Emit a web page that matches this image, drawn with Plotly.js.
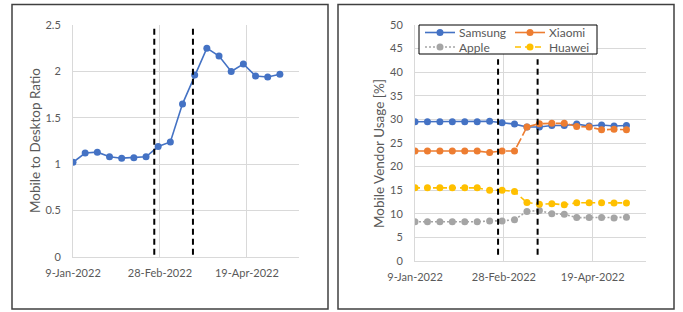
<!DOCTYPE html>
<html>
<head>
<meta charset="utf-8">
<script src="https://cdn.plot.ly/plotly-3.0.1.min.js"></script>
<style>
  html, body { margin: 0; padding: 0; background: #ffffff; }
  #chart { width: 683px; height: 312px; }
</style>
</head>
<body>
<div id="chart"></div>
<script>
// ---- data ----
const weeks = [
  "2022-01-09", "2022-01-16", "2022-01-23", "2022-01-30", "2022-02-06", "2022-02-13",
  "2022-02-20", "2022-02-27", "2022-03-06", "2022-03-13", "2022-03-20", "2022-03-27",
  "2022-04-03", "2022-04-10", "2022-04-17", "2022-04-24", "2022-05-01", "2022-05-08"
];
const mobileDesktopRatio = [1.02, 1.12, 1.13, 1.08, 1.065, 1.07, 1.08, 1.19, 1.24, 1.65, 1.96, 2.25, 2.165, 2.0, 2.08, 1.95, 1.94, 1.97];
const samsung = [29.5, 29.5, 29.5, 29.5, 29.5, 29.5, 29.6, 29.3, 29.0, 28.4, 28.4, 28.7, 28.7, 29.0, 28.6, 28.8, 28.6, 28.7];
const xiaomi  = [23.3, 23.3, 23.3, 23.3, 23.3, 23.3, 23.0, 23.3, 23.3, 28.4, 29.1, 29.2, 29.2, 28.5, 28.4, 27.8, 27.9, 27.8];
const apple   = [8.3, 8.3, 8.3, 8.3, 8.3, 8.3, 8.5, 8.5, 8.75, 10.5, 10.7, 10.0, 9.9, 9.2, 9.2, 9.2, 9.1, 9.25];
const huawei  = [15.5, 15.5, 15.5, 15.5, 15.5, 15.5, 15.0, 15.0, 14.7, 12.4, 12.0, 12.15, 11.9, 12.35, 12.35, 12.35, 12.3, 12.3];
const vendorNames = ["Samsung", "Xiaomi", "Apple", "Huawei"];
const eventDates = ["2022-02-24 18:00", "2022-03-19"];
const tickDates = ["2022-01-09", "2022-02-28", "2022-04-19"];
const tickLabels = ["9-Jan-2022", "28-Feb-2022", "19-Apr-2022"];
const xRange = ["2022-01-09", "2022-05-19"];

// ---- style ----
const FONT = "Lato, 'Open Sans', sans-serif";
const TXT = "#595959";
const GRID = "#d9d9d9";
const W = 683, H = 312;
const px = v => v / W;
const py = v => 1 - v / H;

const vendorStyle = {
  Samsung: { color: "#4472C4", dash: "solid",    legDash: "solid" },
  Xiaomi:  { color: "#ED7D31", dash: "10px,3px", legDash: "solid" },
  Apple:   { color: "#A5A5A5", dash: "2px,2px",  legDash: "2px,2px" },
  Huawei:  { color: "#FFC000", dash: "5px,4px",  legDash: "6px,4px" }
};
const vendorValues = { Samsung: samsung, Xiaomi: xiaomi, Apple: apple, Huawei: huawei };

function mk(name, y, color, dash, xa, ya) {
  return {
    type: "scatter", mode: "lines+markers", name: name,
    x: weeks, y: y, xaxis: xa, yaxis: ya, showlegend: false,
    line: { color: color, width: 1.6, dash: dash },
    marker: { color: color, size: 7, symbol: "circle" }
  };
}

const traces = [mk("Ratio", mobileDesktopRatio, "#4472C4", "solid", "x", "y")];
vendorNames.forEach(n => traces.push(mk(n, vendorValues[n], vendorStyle[n].color, vendorStyle[n].dash, "x2", "y2")));

function xax(domain) {
  return {
    type: "date", domain: domain, range: xRange,
    tickmode: "array", tickvals: tickDates, ticktext: tickLabels,
    showgrid: true, gridcolor: GRID, gridwidth: 1,
    showline: true, linecolor: GRID, linewidth: 1,
    zeroline: false, ticks: "outside", ticklen: 6, tickcolor: "rgba(0,0,0,0)",
    tickfont: { family: FONT, size: 11, color: TXT }, fixedrange: true
  };
}
function yax(domain, range, dtick, anchor) {
  return {
    domain: domain, range: range, dtick: dtick, anchor: anchor,
    showgrid: true, gridcolor: GRID, gridwidth: 1,
    showline: true, linecolor: GRID, linewidth: 1,
    zeroline: false, ticks: "outside", ticklen: 9, tickcolor: "rgba(0,0,0,0)",
    tickfont: { family: FONT, size: 11, color: TXT }, fixedrange: true
  };
}

const shapes = [
  // panel borders
  { type: "rect", xref: "paper", yref: "paper", x0: px(12), x1: px(328), y0: py(309), y1: py(4.5),
    line: { color: "#404040", width: 1.5 }, fillcolor: "rgba(0,0,0,0)" },
  { type: "rect", xref: "paper", yref: "paper", x0: px(338), x1: px(674), y0: py(309), y1: py(4.5),
    line: { color: "#404040", width: 1.5 }, fillcolor: "rgba(0,0,0,0)" }
];
eventDates.forEach(d => {
  shapes.push({ type: "line", xref: "x", yref: "y domain", x0: d, x1: d, y0: 0.01, y1: 1,
    line: { color: "#000000", width: 2, dash: "6px,4px" } });
  shapes.push({ type: "line", xref: "x2", yref: "y2 domain", x0: d, x1: d, y0: 0.026, y1: 0.855,
    line: { color: "#000000", width: 2, dash: "6px,4px" } });
});

const annotations = [
  { xref: "paper", yref: "paper", x: px(35), y: py(141), text: "Mobile to Desktop Ratio",
    textangle: -90, showarrow: false, xanchor: "center", yanchor: "middle",
    font: { family: FONT, size: 13.5, color: TXT } },
  { xref: "paper", yref: "paper", x: px(379), y: py(154), text: "Mobile Vendor Usage [%]",
    textangle: -90, showarrow: false, xanchor: "center", yanchor: "middle",
    font: { family: FONT, size: 13.5, color: TXT } }
];

// ---- legend (drawn by hand to match the compact two-column box) ----
shapes.push({ type: "rect", xref: "paper", yref: "paper", layer: "above",
  x0: px(419), x1: px(597), y0: py(54), y1: py(25),
  line: { color: "#000000", width: 1 }, fillcolor: "#ffffff" });
const legCols = [425, 515], legRows = [32.5, 47];
vendorNames.forEach((n, i) => {
  const x0 = legCols[i % 2], yy = legRows[Math.floor(i / 2)];
  const st = vendorStyle[n];
  shapes.push({ type: "line", xref: "paper", yref: "paper", layer: "above",
    x0: px(x0), x1: px(x0 + 30), y0: py(yy), y1: py(yy),
    line: { color: st.color, width: 1.6, dash: st.legDash } });
  shapes.push({ type: "circle", xref: "paper", yref: "paper", layer: "above",
    x0: px(x0 + 15 - 3.5), x1: px(x0 + 15 + 3.5), y0: py(yy + 3.5), y1: py(yy - 3.5),
    line: { color: st.color, width: 0 }, fillcolor: st.color });
  annotations.push({ xref: "paper", yref: "paper", x: px(x0 + 32), y: py(yy), text: n,
    showarrow: false, xanchor: "left", yanchor: "middle",
    font: { family: FONT, size: 12, color: TXT } });
});

const layout = {
  width: W, height: H,
  margin: { l: 0, r: 0, t: 0, b: 0 },
  paper_bgcolor: "#ffffff", plot_bgcolor: "#ffffff",
  font: { family: FONT, color: TXT },
  xaxis: Object.assign(xax([px(73), px(299)]), { anchor: "y" }),
  yaxis: yax([py(257), py(25)], [0, 2.5], 0.5, "x"),
  xaxis2: Object.assign(xax([px(415), px(646)]), { anchor: "y2" }),
  yaxis2: yax([py(261), py(25)], [0, 50], 5, "x2"),
  shapes: shapes,
  annotations: annotations,
  showlegend: false
};

Plotly.newPlot("chart", traces, layout, { displayModeBar: false, staticPlot: true });
</script>
</body>
</html>
